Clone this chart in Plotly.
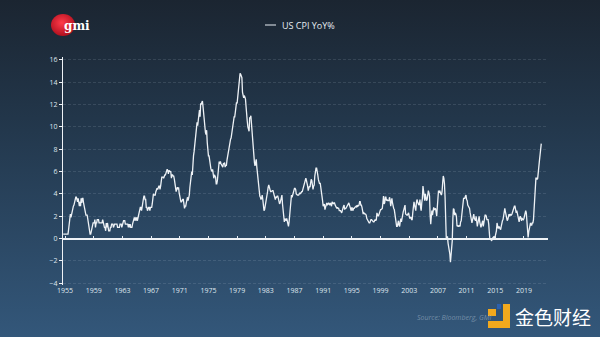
import base64
import pandas as pd
import plotly.graph_objects as go

# Monthly US CPI year-over-year change, %, first month plotted at Oct 1954 on the axis
start_month = "1954-10-01"
cpi_yoy = [
    0.4, 0.4, 0.4, 0.4, 0.4, 0.4,
    0.4, 0.4, 0.4, 0.8, 1.2, 1.9, 2.2, 1.9, 2.2, 2.2, 2.6, 2.9,
    3.0, 3.3, 3.7, 3.7, 3.7, 3.3, 3.3, 3.6, 3.3, 2.9, 3.3, 2.9,
    3.6, 3.2, 3.6, 3.6, 3.2, 2.8, 2.4, 2.1, 2.1, 2.1, 2.1, 1.8,
    1.4, 1.1, 0.4, 0.4, 0.4, 0.7, 0.7, 1.1, 1.4, 1.4, 1.4, 1.7,
    1.0, 1.4, 1.4, 1.7, 1.7, 1.7, 1.4, 1.4, 1.4, 1.4, 1.4, 1.4,
    1.7, 1.4, 1.4, 1.0, 1.0, 0.7, 1.4, 1.0, 1.4, 0.7, 0.7, 0.7,
    0.7, 1.0, 1.0, 1.3, 1.3, 1.3, 1.0, 1.3, 1.3, 1.3, 1.3, 1.3,
    1.3, 1.0, 1.0, 1.0, 1.0, 1.3, 1.3, 1.3, 1.0, 1.3, 1.3, 1.6,
    1.6, 1.6, 1.3, 1.3, 1.3, 1.3, 1.3, 1.0, 1.3, 1.0, 1.3, 1.0,
    1.0, 1.0, 1.3, 1.6, 1.6, 1.9, 1.6, 1.9, 1.6, 1.9, 1.6, 1.9,
    1.9, 2.5, 2.5, 2.8, 2.8, 2.5, 2.8, 3.5, 3.5, 3.8, 3.8, 3.5,
    3.5, 2.8, 2.8, 2.5, 2.8, 2.8, 2.8, 2.5, 2.8, 2.8, 2.8, 3.1,
    3.7, 4.0, 3.9, 3.9, 3.9, 4.2, 4.5, 4.5, 4.4, 4.7, 4.7, 4.7,
    4.4, 4.7, 5.2, 5.5, 5.5, 5.5, 5.4, 5.7, 5.7, 5.7, 5.9, 6.2,
    6.2, 6.1, 5.8, 6.1, 6.0, 6.0, 6.0, 5.4, 5.7, 5.7, 5.6, 5.6,
    5.3, 5.0, 4.7, 4.2, 4.4, 4.6, 4.4, 4.6, 4.1, 3.8, 3.3, 3.3,
    3.3, 3.5, 3.5, 3.5, 3.2, 2.7, 2.9, 2.9, 3.2, 3.4, 3.7, 3.4,
    3.6, 3.9, 4.6, 5.1, 5.5, 6.0, 5.7, 7.4, 7.4, 7.8, 8.3, 8.7,
    9.4, 10.0, 10.4, 10.1, 10.7, 10.9, 11.5, 10.9, 12.1, 12.0, 12.2, 12.3,
    11.8, 11.2, 10.3, 10.2, 9.5, 9.3, 9.7, 8.6, 7.9, 7.4, 7.4, 6.9,
    6.7, 6.3, 6.1, 6.0, 6.2, 5.9, 5.4, 5.7, 5.5, 5.5, 4.9, 4.9,
    5.2, 5.9, 6.4, 6.9, 6.7, 6.9, 6.7, 6.6, 6.6, 6.4, 6.7, 6.7,
    6.8, 6.4, 6.6, 6.5, 7.0, 7.4, 7.7, 7.8, 8.3, 8.9, 8.9, 9.0,
    9.3, 9.9, 10.1, 10.5, 10.9, 10.9, 11.3, 11.8, 12.2, 12.1, 12.6, 13.3,
    13.9, 14.2, 14.8, 14.7, 14.4, 14.4, 13.1, 12.9, 12.6, 12.8, 12.6, 12.5,
    11.8, 11.4, 10.5, 10.0, 9.8, 9.6, 10.8, 10.8, 11.0, 10.1, 9.6, 8.9,
    8.4, 7.6, 6.8, 6.5, 6.7, 7.1, 6.4, 5.9, 5.0, 5.1, 4.6, 3.8,
    3.7, 3.5, 3.6, 3.9, 3.5, 2.6, 2.5, 2.6, 2.9, 2.9, 3.3, 3.8,
    4.2, 4.6, 4.8, 4.6, 4.2, 4.2, 4.2, 4.3, 4.3, 4.3, 4.1, 3.9,
    3.5, 3.5, 3.7, 3.7, 3.8, 3.8, 3.6, 3.3, 3.1, 3.2, 3.5, 3.8,
    3.9, 3.1, 2.2, 1.6, 1.5, 1.8, 1.6, 1.6, 1.8, 1.5, 1.3, 1.1,
    1.5, 2.1, 3.0, 3.8, 3.9, 3.7, 3.9, 4.3, 4.4, 4.5, 4.5, 4.4,
    4.0, 3.9, 3.9, 3.9, 3.9, 4.0, 4.1, 4.0, 4.2, 4.2, 4.2, 4.4,
    4.7, 4.8, 5.0, 5.1, 5.4, 5.2, 5.0, 4.7, 4.3, 4.5, 4.7, 4.6,
    5.2, 5.3, 5.2, 4.7, 4.4, 4.7, 4.8, 5.6, 6.2, 6.3, 6.3, 6.1,
    5.7, 5.3, 4.9, 4.9, 5.0, 4.7, 4.4, 3.8, 3.4, 2.9, 3.0, 3.1,
    2.6, 2.8, 3.2, 3.2, 3.0, 3.1, 3.2, 3.1, 3.0, 3.2, 3.0, 2.9,
    3.3, 3.2, 3.1, 3.2, 3.2, 3.0, 2.8, 2.8, 2.7, 2.8, 2.7, 2.7,
    2.5, 2.5, 2.5, 2.4, 2.3, 2.5, 2.8, 2.9, 3.0, 2.6, 2.7, 2.7,
    2.8, 2.9, 2.9, 3.1, 3.2, 3.0, 2.8, 2.6, 2.5, 2.8, 2.6, 2.5,
    2.7, 2.7, 2.8, 2.9, 2.9, 2.8, 3.0, 2.9, 3.0, 3.0, 3.3, 3.3,
    3.0, 3.0, 2.8, 2.5, 2.2, 2.3, 2.2, 2.2, 2.2, 2.1, 1.8, 1.7,
    1.6, 1.4, 1.4, 1.4, 1.7, 1.7, 1.7, 1.6, 1.5, 1.5, 1.5, 1.6,
    1.7, 1.6, 1.7, 2.3, 2.1, 2.0, 2.1, 2.3, 2.6, 2.6, 2.6, 2.7,
    2.7, 3.2, 3.8, 3.1, 3.2, 3.7, 3.7, 3.4, 3.5, 3.4, 3.4, 3.4,
    3.7, 3.5, 2.9, 3.3, 3.6, 3.2, 2.7, 2.7, 2.6, 2.1, 1.9, 1.6,
    1.1, 1.1, 1.5, 1.6, 1.2, 1.1, 1.5, 1.8, 1.5, 2.0, 2.2, 2.4,
    2.6, 3.0, 3.0, 2.2, 2.1, 2.1, 2.1, 2.2, 2.3, 2.0, 1.8, 1.9,
    1.9, 1.7, 1.7, 2.3, 3.1, 3.3, 3.0, 2.7, 2.5, 3.2, 3.5, 3.3,
    3.0, 3.0, 3.1, 3.5, 2.8, 2.5, 3.2, 3.6, 4.7, 4.3, 3.5, 3.4,
    4.0, 3.6, 3.4, 3.5, 4.2, 4.3, 4.1, 3.8, 2.1, 1.3, 2.0, 2.5,
    2.1, 2.4, 2.8, 2.6, 2.7, 2.7, 2.4, 2.0, 2.8, 3.5, 4.3, 4.1,
    4.3, 4.0, 4.0, 3.9, 4.2, 5.0, 5.6, 5.4, 4.9, 3.7, 1.1, 0.1,
    0.0, 0.2, -0.4, -0.7, -1.3, -1.4, -2.1, -1.5, -1.3, -0.2, 1.8, 2.7,
    2.6, 2.1, 2.3, 2.2, 2.0, 1.1, 1.2, 1.1, 1.1, 1.2, 1.1, 1.5,
    1.6, 2.1, 2.7, 3.2, 3.6, 3.6, 3.6, 3.8, 3.9, 3.5, 3.4, 3.0,
    2.9, 2.9, 2.7, 2.3, 1.7, 1.7, 1.4, 1.7, 2.0, 2.2, 1.8, 1.7,
    1.6, 2.0, 1.5, 1.1, 1.4, 1.8, 2.0, 1.5, 1.2, 1.0, 1.2, 1.5,
    1.6, 1.1, 1.5, 2.0, 2.1, 2.1, 2.0, 1.7, 1.7, 1.7, 1.3, 0.8,
    -0.1, 0.0, -0.1, -0.2, 0.0, 0.1, 0.2, 0.2, 0.0, 0.2, 0.5, 0.7,
    1.4, 1.0, 0.9, 1.1, 1.0, 1.0, 0.8, 1.1, 1.5, 1.6, 1.7, 2.1,
    2.5, 2.7, 2.4, 2.2, 1.9, 1.6, 1.7, 1.9, 2.2, 2.0, 2.2, 2.1,
    2.1, 2.2, 2.4, 2.5, 2.8, 2.9, 2.9, 2.7, 2.3, 2.5, 2.2, 1.9,
    1.6, 1.5, 1.9, 2.0, 1.8, 1.6, 1.8, 1.7, 1.7, 1.8, 2.1, 2.3,
    2.5, 2.3, 1.5, 0.3, 0.1, 0.6, 1.0, 1.3, 1.4, 1.2, 1.2, 1.4,
    1.4, 1.7, 2.6, 4.2, 5.0, 5.4, 5.4, 5.3, 5.4, 6.2, 6.8, 7.0,
    7.5, 7.9, 8.5,
]
tick_years = list(range(1955, 2020, 4))
y_ticks = list(range(-4, 17, 2))
series_name = "US CPI YoY%"
source_text = "Source: Bloomberg, GMI"

dates = pd.date_range(start_month, periods=len(cpi_yoy), freq="MS")

W, H = 600, 337
L, R, T, B = 63, 548, 57, 285          # plot area in pixels
Y_RANGE = [-4.15, 16.25]


def px_x(px):
    return (px - L) / (R - L)


def px_y(py):
    return (B - py) / (B - T)


# full-canvas vertical gradient and the logo sphere as an inline SVG
svg = (
    f'<svg xmlns="http://www.w3.org/2000/svg" width="{W}" height="{H}" preserveAspectRatio="none">'
    '<defs><linearGradient id="g" x1="0" y1="0" x2="0" y2="1">'
    '<stop offset="0" stop-color="#1b2531"/>'
    '<stop offset="0.35" stop-color="#22364a"/>'
    '<stop offset="1" stop-color="#33577a"/>'
    '</linearGradient>'
    '<radialGradient id="r" cx="0.45" cy="0.4" r="0.6">'
    '<stop offset="0" stop-color="#ff3b4a"/><stop offset="1" stop-color="#b0101e"/>'
    '</radialGradient></defs>'
    f'<rect width="{W}" height="{H}" fill="url(#g)"/>'
    '<ellipse cx="63" cy="25" rx="12" ry="11" fill="url(#r)"/>'
    '</svg>'
)
bg_uri = "data:image/svg+xml;base64," + base64.b64encode(svg.encode()).decode()

fig = go.Figure()
fig.add_trace(go.Scatter(
    x=dates, y=cpi_yoy, mode="lines", name=series_name,
    line=dict(color="#eef2f6", width=1.3), showlegend=False,
))
# carrier trace for the tick marks sitting on the zero line
fig.add_trace(go.Scatter(
    x=[dates[0]], y=[None], xaxis="x2", mode="lines",
    showlegend=False, hoverinfo="skip",
))

tickvals = [f"{y}-01-01" for y in tick_years]
x_range = ["1954-09-20", "2022-05-10"]

fig.update_layout(
    width=W, height=H,
    margin=dict(l=L, r=W - R, t=T, b=H - B),
    paper_bgcolor="rgba(0,0,0,0)",
    plot_bgcolor="rgba(0,0,0,0)",
    font=dict(family="Open Sans, sans-serif", color="#dfe6ee", size=7),
    images=[dict(
        source=bg_uri, xref="paper", yref="paper",
        x=px_x(0), y=px_y(0), sizex=px_x(W) - px_x(0), sizey=px_y(0) - px_y(H),
        xanchor="left", yanchor="top", sizing="stretch", layer="below",
    )],
    xaxis=dict(
        type="date", range=x_range, tickvals=tickvals,
        ticktext=[str(y) for y in tick_years],
        showgrid=False, zeroline=False, showline=False, ticks="",
        tickfont=dict(size=7, color="#dfe6ee"),
    ),
    xaxis2=dict(
        type="date", matches="x", overlaying="x", anchor="free",
        position=(0 - Y_RANGE[0]) / (Y_RANGE[1] - Y_RANGE[0]),
        tickvals=tickvals, showticklabels=False, ticks="inside",
        ticklen=3, tickwidth=1, tickcolor="#e8eef4",
        showgrid=False, zeroline=False, showline=False,
    ),
    yaxis=dict(
        range=Y_RANGE, tickvals=y_ticks,
        showgrid=True, gridcolor="rgba(200,215,230,0.14)", gridwidth=1,
        griddash="3px,2px",
        zeroline=True, zerolinecolor="#eef2f6", zerolinewidth=1.5,
        showline=True, linecolor="#eef2f6", linewidth=1.2,
        ticks="outside", ticklen=3, tickcolor="#eef2f6", tickwidth=1,
        tickfont=dict(size=7, color="#dfe6ee"),
    ),
    shapes=[
        # legend sample line
        dict(type="line", xref="paper", yref="paper",
             x0=px_x(265), x1=px_x(276), y0=px_y(25), y1=px_y(25),
             line=dict(color="#e8eef4", width=1)),
        # watermark mark
        dict(type="rect", xref="paper", yref="paper",
             x0=px_x(503), x1=px_x(510), y0=px_y(304), y1=px_y(328),
             fillcolor="#f2a91d", line_width=0),
        dict(type="rect", xref="paper", yref="paper",
             x0=px_x(488), x1=px_x(510), y0=px_y(321), y1=px_y(328),
             fillcolor="#f2a91d", line_width=0),
        dict(type="rect", xref="paper", yref="paper",
             x0=px_x(488), x1=px_x(496), y0=px_y(309), y1=px_y(316),
             fillcolor="#f2a91d", line_width=0),
        dict(type="rect", xref="paper", yref="paper",
             x0=px_x(497), x1=px_x(501), y0=px_y(304), y1=px_y(309),
             fillcolor="#2a5fae", line_width=0),
    ],
    annotations=[
        dict(text=series_name, xref="paper", yref="paper",
             x=px_x(280), y=px_y(25), xanchor="left", yanchor="middle",
             showarrow=False, font=dict(size=9, color="#e6ecf2")),
        dict(text="<b>gmi</b>", xref="paper", yref="paper",
             x=px_x(62), y=px_y(26), xanchor="left", yanchor="middle",
             showarrow=False,
             font=dict(family="DejaVu Serif, serif", size=12, color="#ffffff")),
        dict(text=f"<i>{source_text}</i>", xref="paper", yref="paper",
             x=px_x(415), y=px_y(317), xanchor="left", yanchor="middle",
             showarrow=False, font=dict(size=7, color="rgba(160,180,200,0.6)")),
        dict(text="金色财经", xref="paper", yref="paper",
             x=px_x(513), y=px_y(316), xanchor="left", yanchor="middle",
             showarrow=False,
             font=dict(family="Noto Sans CJK SC", size=19, color="#ffffff")),
    ],
)

fig.write_html("out.html")
